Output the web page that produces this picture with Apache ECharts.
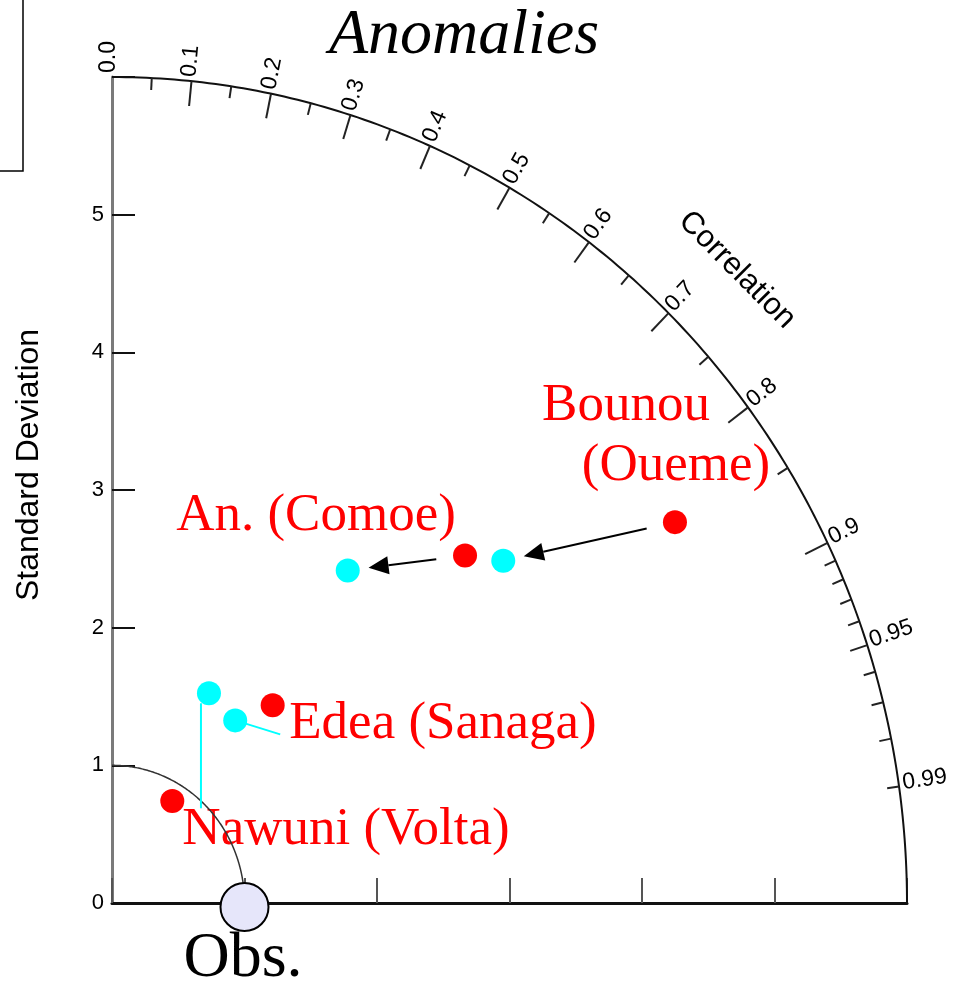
<!DOCTYPE html>
<html lang="en">
<head>
<meta charset="UTF-8">
<title>Anomalies</title>
<script type="text/javascript" src="https://cdn.jsdelivr.net/npm/echarts@6/dist/echarts.min.js"></script>
<style type="text/css">
	html, body { margin:0; padding:0; background:#fff; }
	#chart { width:957px; height:983px; }
</style>
</head>
<body>
<div id="chart"></div>
<script type="text/javascript">
	// Taylor diagram : radius = standard deviation, angle = acos(correlation)
	var stations = ['Bounou (Oueme)', 'An. (Comoe)', 'Edea (Sanaga)', 'Nawuni (Volta)'];
	var redStd   = [5.07, 3.67, 1.88, 0.87];
	var redCorr  = [0.838, 0.726, 0.645, 0.523];
	var cyanStd  = [3.86, 3.00, 1.62, 1.69];
	var cyanCorr = [0.765, 0.593, 0.574, 0.433];
	var obsStd = 1.0;
	var stdMax = 6;
	var stdTicks = [0, 1, 2, 3, 4, 5];
	var corrMajor = [0.1, 0.2, 0.3, 0.4, 0.5, 0.6, 0.7, 0.8, 0.9];
	var corrMid = [0.95];
	var corrMinor = [0.05, 0.15, 0.25, 0.35, 0.45, 0.55, 0.65, 0.75, 0.85,
		0.91, 0.92, 0.93, 0.94, 0.96, 0.97, 0.98, 0.99];
	var corrLabels = [0, 0.1, 0.2, 0.3, 0.4, 0.5, 0.6, 0.7, 0.8, 0.9, 0.95, 0.99];
	var arrowStations = [0, 1];   // red -> cyan arrows
	var leaderStations = [2, 3];  // cyan leader lines to the label

	var SANS = '"Liberation Sans", Arial, sans-serif';
	var SERIF = '"Liberation Serif", "Times New Roman", serif';

	function toXY(std, corr){
		return [std * corr, std * Math.sqrt(1 - corr * corr)];
	}
	function arcPoint(api, r, c){
		var th = Math.acos(c);
		return api.coord([r * Math.cos(th), r * Math.sin(th)]);
	}
	function radialDir(api, p){
		var o = api.coord([0, 0]);
		var dx = p[0] - o[0], dy = p[1] - o[1];
		var L = Math.sqrt(dx * dx + dy * dy);
		return [dx / L, dy / L];
	}

	// tick data for the correlation arc
	var tickData = [];
	corrMajor.forEach(function(c){ tickData.push([c, 25]); });
	corrMid.forEach(function(c){ tickData.push([c, 18]); });
	corrMinor.forEach(function(c){ tickData.push([c, 12]); });

	var redPts = stations.map(function(s, i){ return toXY(redStd[i], redCorr[i]); });
	var cyanPts = stations.map(function(s, i){ return toXY(cyanStd[i], cyanCorr[i]); });

	// pixel offsets of the cyan leader lines (from dot centre)
	var leaderLayout = {
		2: {from: [0, 0], to: [45, 14]},
		3: {from: [-8, 10], to: [-8, 115]}
	};

	function arcRender(color, width){
		return function(params, api){
			var r = api.value(0), pts = [];
			for (var d = 0; d <= 90; d += 0.5) {
				var t = d * Math.PI / 180;
				pts.push(api.coord([r * Math.cos(t), r * Math.sin(t)]));
			}
			return {type: 'polyline', shape: {points: pts}, style: {stroke: color, lineWidth: width, fill: null}};
		};
	}

	var myChart = echarts.init(document.getElementById('chart'));
	var option = {
		animation: false,
		backgroundColor: '#fff',
		grid: {left: 112, top: 77, width: 795, height: 826},
		xAxis: {
			type: 'value', min: 0, max: stdMax, interval: 1,
			axisLine: {lineStyle: {color: '#111', width: 3}},
			axisTick: {inside: true, length: 25, lineStyle: {color: '#555', width: 2}},
			axisLabel: {show: false},
			splitLine: {show: false}
		},
		yAxis: {
			type: 'value', min: 0, max: stdMax, interval: 1,
			axisLine: {lineStyle: {color: '#7a7a7a', width: 3}},
			axisTick: {inside: true, length: 23, lineStyle: {color: '#111', width: 2}},
			axisLabel: {
				margin: 8, color: '#000', fontSize: 22, fontFamily: SANS,
				formatter: function(v){ return stdTicks.indexOf(v) >= 0 ? String(v) : ''; }
			},
			splitLine: {show: false}
		},
		graphic: [
			{type: 'polyline', shape: {points: [[23, 0], [23, 171], [0, 171]]}, style: {stroke: '#000', lineWidth: 1.5, fill: null}},
			{type: 'text', x: 464, y: 36, style: {text: 'Anomalies', font: 'italic 64px ' + SERIF, fill: '#000', align: 'center', verticalAlign: 'middle'}},
			{type: 'text', x: 29, y: 465, rotation: Math.PI / 2, style: {text: 'Standard Deviation', font: '32px ' + SANS, fill: '#000', align: 'center', verticalAlign: 'middle'}},
			{type: 'text', x: 737, y: 270, rotation: -0.79, style: {text: 'Correlation', font: '31px ' + SANS, fill: '#000', align: 'center', verticalAlign: 'middle'}},
			{type: 'text', x: 626, y: 406, style: {text: 'Bounou', font: '53px ' + SERIF, fill: '#ff0000', align: 'center', verticalAlign: 'middle'}},
			{type: 'text', x: 676, y: 466, style: {text: '(Oueme)', font: '53px ' + SERIF, fill: '#ff0000', align: 'center', verticalAlign: 'middle'}},
			{type: 'text', x: 316, y: 516, style: {text: 'An. (Comoe)', font: '53px ' + SERIF, fill: '#ff0000', align: 'center', verticalAlign: 'middle'}},
			{type: 'text', x: 443, y: 724, style: {text: 'Edea (Sanaga)', font: '53px ' + SERIF, fill: '#ff0000', align: 'center', verticalAlign: 'middle'}},
			{type: 'text', x: 346, y: 830, style: {text: 'Nawuni (Volta)', font: '53px ' + SERIF, fill: '#ff0000', align: 'center', verticalAlign: 'middle'}},
			{type: 'text', x: 243, y: 959, style: {text: 'Obs.', font: '64px ' + SERIF, fill: '#000', align: 'center', verticalAlign: 'middle'}}
		],
		series: [
			{
				name: 'outerArc', type: 'custom', z: 1, silent: true,
				data: [[stdMax]],
				renderItem: arcRender('#111', 2)
			},
			{
				name: 'innerArc', type: 'custom', z: 1, silent: true,
				data: [[obsStd]],
				renderItem: arcRender('#333', 1.5)
			},
			{
				name: 'corrTicks', type: 'custom', z: 1, silent: true,
				data: tickData,
				renderItem: function(params, api){
					var p = arcPoint(api, stdMax, api.value(0));
					var d = radialDir(api, p), len = api.value(1);
					return {type: 'line', shape: {x1: p[0], y1: p[1], x2: p[0] - d[0] * len, y2: p[1] - d[1] * len},
						style: {stroke: '#222', lineWidth: 2}};
				}
			},
			{
				name: 'corrLabels', type: 'custom', z: 1, silent: true,
				data: corrLabels.map(function(c){ return [c]; }),
				renderItem: function(params, api){
					var c = api.value(0);
					var p = arcPoint(api, stdMax, c);
					var d = radialDir(api, p);
					var n = [d[1], -d[0]];
					return {
						type: 'text',
						x: p[0] + d[0] * 4 + n[0] * 3,
						y: p[1] + d[1] * 4 + n[1] * 3,
						rotation: Math.atan2(-d[1], d[0]),
						style: {text: c === 0 ? '0.0' : String(c), font: '23px ' + SANS, fill: '#000', align: 'left', verticalAlign: 'middle'}
					};
				}
			},
			{
				name: 'leaders', type: 'custom', z: 2, silent: true,
				data: leaderStations.map(function(i){ return [cyanPts[i][0], cyanPts[i][1], i]; }),
				renderItem: function(params, api){
					var p = api.coord([api.value(0), api.value(1)]);
					var lay = leaderLayout[api.value(2)];
					return {type: 'line', shape: {x1: p[0] + lay.from[0], y1: p[1] + lay.from[1], x2: p[0] + lay.to[0], y2: p[1] + lay.to[1]},
						style: {stroke: '#00ffff', lineWidth: 2}};
				}
			},
			{
				name: 'arrows', type: 'custom', z: 3, silent: true,
				data: arrowStations.map(function(i){ return [redPts[i][0], redPts[i][1], cyanPts[i][0], cyanPts[i][1]]; }),
				renderItem: function(params, api){
					var p = api.coord([api.value(0), api.value(1)]);
					var q = api.coord([api.value(2), api.value(3)]);
					var dx = q[0] - p[0], dy = q[1] - p[1], L = Math.sqrt(dx * dx + dy * dy);
					var u = [dx / L, dy / L], n = [-u[1], u[0]];
					var s = [p[0] + u[0] * 29, p[1] + u[1] * 29];
					var tip = [q[0] - u[0] * 21, q[1] - u[1] * 21];
					var back = [tip[0] - u[0] * 20, tip[1] - u[1] * 20];
					return {type: 'group', children: [
						{type: 'line', shape: {x1: s[0], y1: s[1], x2: back[0], y2: back[1]}, style: {stroke: '#000', lineWidth: 2}},
						{type: 'polygon', shape: {points: [tip, [back[0] + n[0] * 9, back[1] + n[1] * 9], [back[0] - n[0] * 9, back[1] - n[1] * 9]]},
							style: {fill: '#000'}}
					]};
				}
			},
			{
				name: 'Model (red)', type: 'scatter', z: 4, symbolSize: 24,
				itemStyle: {color: '#ff0000', opacity: 1},
				data: redPts
			},
			{
				name: 'Model (cyan)', type: 'scatter', z: 4, symbolSize: 24,
				itemStyle: {color: '#00ffff', opacity: 1},
				data: cyanPts
			},
			{
				name: 'Obs', type: 'scatter', z: 5, symbolSize: 48, symbolOffset: [0, 4],
				itemStyle: {color: '#e6e6fa', borderColor: '#000', borderWidth: 2, opacity: 1},
				data: [[obsStd, 0]]
			}
		]
	};
	myChart.setOption(option, true);
</script>
</body>
</html>
